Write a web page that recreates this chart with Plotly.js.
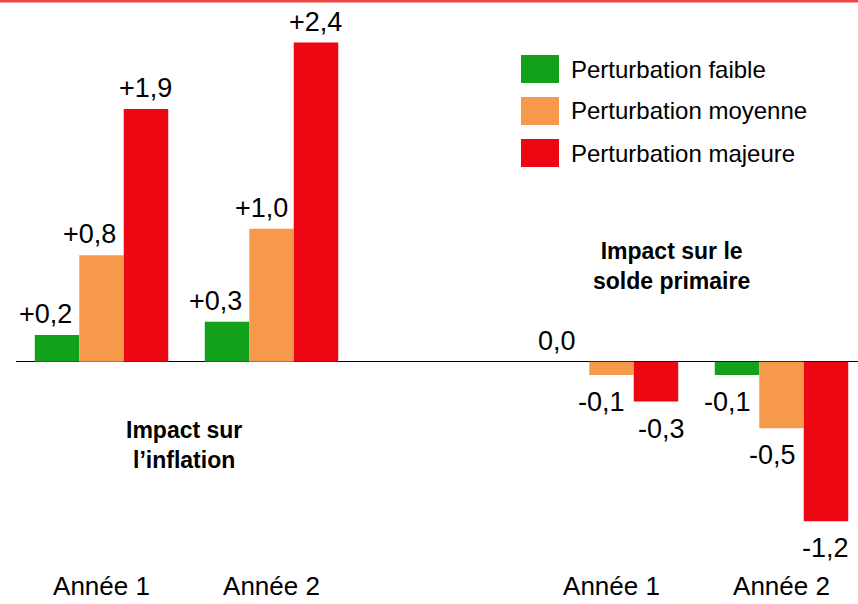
<!DOCTYPE html>
<html>
<head>
<meta charset="utf-8">
<script src="https://cdn.plot.ly/plotly-3.0.1.min.js"></script>
<style>html,body{margin:0;padding:0;background:#fff;}#chart{width:858px;height:604px;}</style>
</head>
<body>
<div id="chart"></div>
<script>
// ---- data ----
const years = ['Année 1', 'Année 2', 'Année 1', 'Année 2'];
const panelTitles = ['Impact sur<br>l’inflation', 'Impact sur le<br>solde primaire'];
const seriesNames = ['Perturbation faible', 'Perturbation moyenne', 'Perturbation majeure'];
const faible  = [0.2, 0.3, 0.0, -0.1];
const moyenne = [0.8, 1.0, -0.1, -0.5];
const majeure = [1.9, 2.4, -0.3, -1.2];

// ---- styling ----
const colors = ['#13a01b', '#f7994b', '#ec0712'];
const FONT = 'Liberation Sans, Arial, sans-serif';
const W = 858, H = 604;
const M = {l: 16, r: 0, t: 4, b: 36};
const pxPerX = 170, pxPerY = 133, zeroPy = 361.7, firstCatPx = 101.5;
const xRange = [-(firstCatPx - M.l) / pxPerX, (W - M.r - firstCatPx) / pxPerX];
const yRange = [-(H - M.b - zeroPy) / pxPerY, (zeroPy - M.t) / pxPerY];
const plotW = W - M.l - M.r, plotH = H - M.t - M.b;
const px2paperX = p => (p - M.l) / plotW;
const px2paperY = p => 1 - (p - M.t) / plotH;
const xFromPx = p => xRange[0] + (p - M.l) / pxPerX;
const yFromPx = p => yRange[1] - (p - M.t) / pxPerY;

const bargap = 0.215;
const barW = (1 - bargap) / 3;
// small horizontal nudges of the value labels (px), as in the reference
const labelShift = [[-12, -12, -10, -10], [-12, -10, -10, -9], [0, 0, 6, 0]];

const xPos = years.map((_, i) => i < 2 ? i : i + 1);
const series = [faible, moyenne, majeure];

const traces = series.map((vals, s) => ({
  type: 'bar', x: xPos, y: vals, name: seriesNames[s],
  marker: {color: colors[s], line: {width: 0}},
  showlegend: false, hoverinfo: 'skip'
}));

const fmt = v => (v > 0 ? '+' : (v < 0 ? '-' : '')) + Math.abs(v).toFixed(1).replace('.', ',');

const annotations = [];
series.forEach((vals, s) => {
  vals.forEach((v, i) => {
    const neg = v < 0;
    annotations.push({
      x: xPos[i] + (s - 1) * barW, y: v, xref: 'x', yref: 'y',
      text: fmt(v), showarrow: false,
      xanchor: 'center', yanchor: neg ? 'top' : 'bottom',
      yshift: neg ? -10 : 4, xshift: labelShift[s][i],
      font: {family: FONT, size: 27, color: '#000'}
    });
  });
});
// panel titles
const titlePos = [{x: 184, y: 445}, {x: 671, y: 266}];
panelTitles.forEach((t, p) => {
  annotations.push({x: xFromPx(titlePos[p].x), y: yFromPx(titlePos[p].y), xref: 'x', yref: 'y',
    text: '<b>' + t + '</b>', showarrow: false, xanchor: 'center', yanchor: 'middle',
    font: {family: FONT, size: 23, color: '#000'}});
});

// custom legend
const shapes = [];
const legRows = [69, 111, 153];
seriesNames.forEach((n, s) => {
  shapes.push({type: 'rect', xref: 'paper', yref: 'paper',
    x0: px2paperX(521), x1: px2paperX(559), y0: px2paperY(legRows[s] - 14), y1: px2paperY(legRows[s] + 14),
    fillcolor: colors[s], line: {width: 0}});
  annotations.push({xref: 'paper', yref: 'paper', x: px2paperX(569), y: px2paperY(legRows[s]),
    text: n, showarrow: false, xanchor: 'left', yanchor: 'middle',
    font: {family: FONT, size: 24, color: '#000'}});
});
// top red rule
shapes.push({type: 'line', xref: 'paper', yref: 'paper', x0: px2paperX(0), x1: px2paperX(W),
  y0: px2paperY(1.3), y1: px2paperY(1.3), line: {color: '#f04444', width: 2.6}});

const layout = {
  width: W, height: H, margin: M,
  paper_bgcolor: '#fff', plot_bgcolor: '#fff',
  barmode: 'group', bargap: bargap, bargroupgap: 0,
  font: {family: FONT, color: '#000'},
  xaxis: {range: xRange, tickvals: xPos, ticktext: years, showgrid: false, zeroline: false,
    showline: false, ticks: '', tickfont: {family: FONT, size: 26, color: '#000'}, fixedrange: true},
  yaxis: {range: yRange, showgrid: false, showticklabels: false, ticks: '',
    zeroline: true, zerolinecolor: '#000', zerolinewidth: 1.5, showline: false, fixedrange: true},
  annotations: annotations, shapes: shapes, showlegend: false
};

Plotly.newPlot('chart', traces, layout, {displayModeBar: false, staticPlot: true});
</script>
</body>
</html>
